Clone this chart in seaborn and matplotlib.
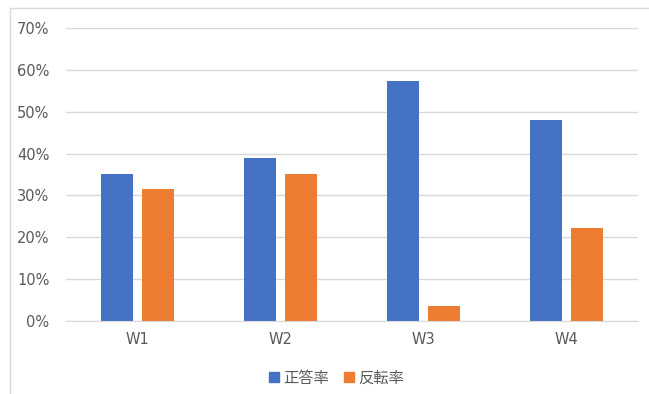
import numpy as np
import pandas as pd
import matplotlib
matplotlib.use("Agg")
import matplotlib.pyplot as plt
from matplotlib.ticker import PercentFormatter
from matplotlib.lines import Line2D
import seaborn as sns

weeks = ["W1", "W2", "W3", "W4"]
correct_rate = [35.2, 38.9, 57.4, 48.1]
flip_rate = [31.5, 35.2, 3.7, 22.2]
series_names = ["正答率", "反転率"]
colors = ["#4472C4", "#ED7D31"]

df = pd.DataFrame({
    "week": weeks * 2,
    "value": correct_rate + flip_rate,
    "series": [series_names[0]] * 4 + [series_names[1]] * 4,
})

sns.set_style("white")
plt.rcParams["font.family"] = ["DejaVu Sans", "Noto Sans CJK JP"]

fig = plt.figure(figsize=(6.49, 3.94), dpi=100)
ax = fig.add_axes([66 / 649, 73 / 394, (638 - 66) / 649, (321 - 28) / 394])

sns.barplot(data=df, x="week", y="value", hue="series", palette=colors,
            width=0.566, gap=0.2, ax=ax, legend=False, saturation=1, linewidth=0)

ax.set_ylim(0, 70)
ax.set_xlim(-0.5, 3.5)
ax.set_yticks(np.arange(0, 71, 10))
ax.yaxis.set_major_formatter(PercentFormatter(decimals=0))
ax.grid(axis="y", color="#d9d9d9", linewidth=1)
ax.set_axisbelow(True)
for s in ["top", "right", "left"]:
    ax.spines[s].set_visible(False)
ax.spines["bottom"].set_color("#d9d9d9")
ax.tick_params(axis="both", length=0, colors="#595959", labelsize=10.5)
ax.tick_params(axis="y", pad=12)
ax.tick_params(axis="x", pad=8)
ax.set_xlabel("")
ax.set_ylabel("")

handles = [Line2D([0], [0], marker="s", linestyle="", markersize=7,
                  markerfacecolor=c, markeredgecolor=c) for c in colors]
leg = fig.legend(handles, series_names, loc="center", bbox_to_anchor=(336 / 649, 1 - 378 / 394),
                 ncol=2, frameon=False, handlelength=0.8, handletextpad=0.2, columnspacing=0.9,
                 prop={"family": ["Noto Sans CJK JP"], "size": 11})
for t in leg.get_texts():
    t.set_color("#595959")

# chart frame
fig.add_artist(Line2D([10 / 649, 10 / 649], [0, 1 - 7.5 / 394], color="#d9d9d9", linewidth=1))
fig.add_artist(Line2D([10 / 649, 1], [1 - 7.5 / 394, 1 - 7.5 / 394], color="#d9d9d9", linewidth=1))

fig.savefig("out.png", dpi=100)
